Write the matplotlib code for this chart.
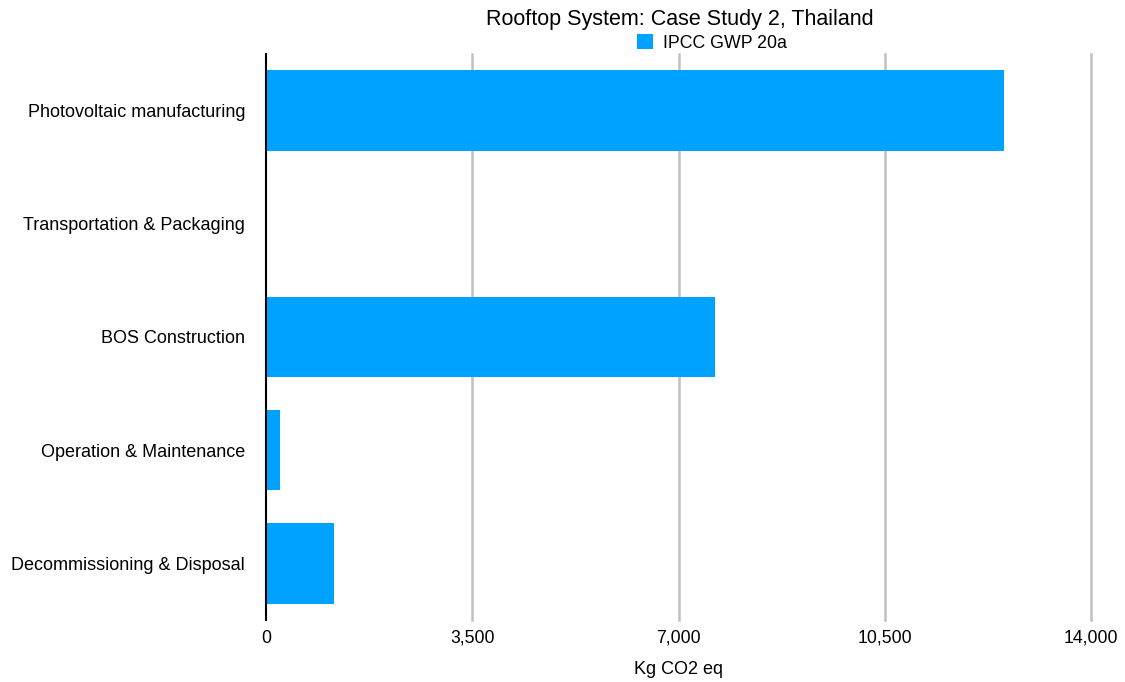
import matplotlib.pyplot as plt
from matplotlib.ticker import FuncFormatter

plt.rcParams['font.family'] = ['Liberation Sans', 'DejaVu Sans']

# data
categories = ["Photovoltaic manufacturing", "Transportation & Packaging", "BOS Construction",
              "Operation & Maintenance", "Decommissioning & Disposal"]
values = [12520, 0, 7620, 240, 1150]
xticks = [0, 3500, 7000, 10500, 14000]

fig = plt.figure(figsize=(11.25, 6.82), dpi=100)
ax = fig.add_axes([266/1125, 1-620/682, (1091-266)/1125, (620-54)/682])

y = list(range(len(categories)))
ax.barh(y, values, height=0.71, color="#00A2FF", label="IPCC GWP 20a", zorder=3)

ax.set_ylim(len(categories)-0.5, -0.5)
ax.set_xlim(0, 14000)
ax.set_yticks(y)
ax.set_yticklabels(categories, fontsize=13)
ax.set_xticks(xticks)
ax.xaxis.set_major_formatter(FuncFormatter(lambda v, p: f"{int(v):,}"))
ax.tick_params(axis="x", length=0, labelsize=12.7, pad=7)
ax.tick_params(axis="y", length=0, pad=15)

# grid lines (no line at 0, the axis line is there)
for t in xticks[1:]:
    ax.axvline(t, color="#c0c0c0", lw=1.8, zorder=1, clip_on=False)

for s in ["top", "right", "bottom"]:
    ax.spines[s].set_visible(False)
ax.spines["left"].set_color("black")
ax.spines["left"].set_linewidth(1.5)
ax.spines["left"].set_zorder(4)

ax.set_xlabel("Kg CO2 eq", fontsize=13, labelpad=10)
fig.text(680/1125, 1-20/682, "Rooftop System: Case Study 2, Thailand", ha="center", va="center", fontsize=15.5)
fig.legend(loc="center", bbox_to_anchor=(712/1125, 1-43/682), frameon=False, fontsize=12.8,
           handlelength=0.9, handleheight=0.9, handletextpad=0.6)

fig.savefig("out.png", dpi=100)
